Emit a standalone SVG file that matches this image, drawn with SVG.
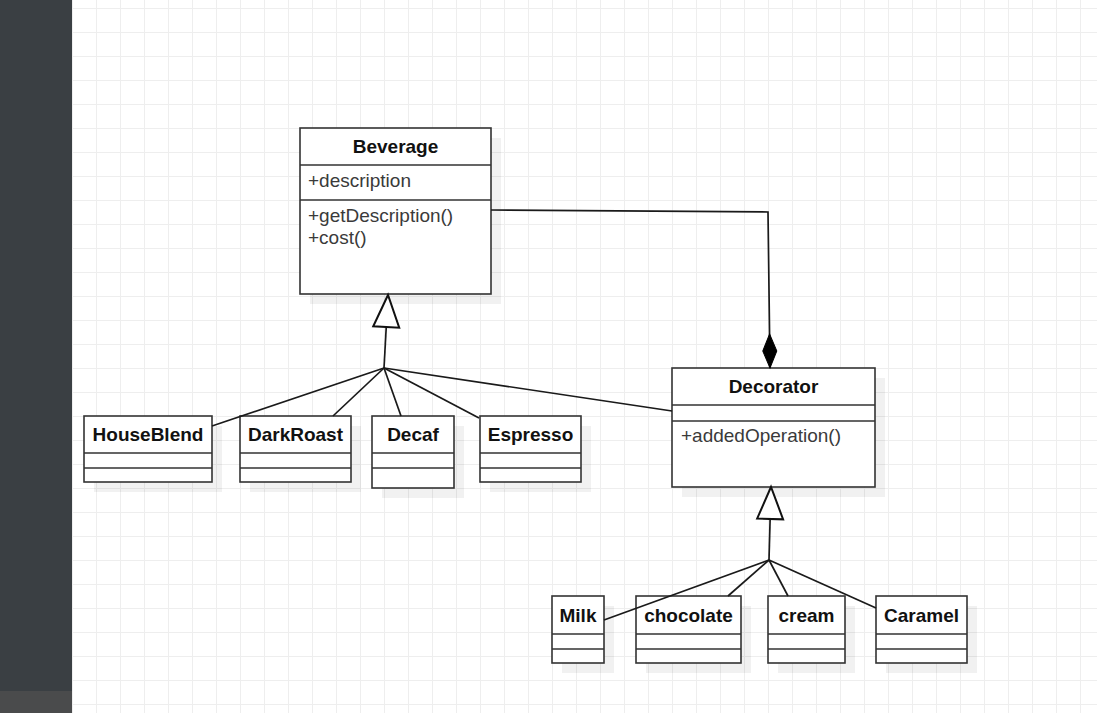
<svg xmlns="http://www.w3.org/2000/svg" width="1097" height="713" viewBox="0 0 1097 713">
<style>
.box{fill:#fff;stroke:#333;stroke-width:1.6}
.div{stroke:#333;stroke-width:1.6;fill:none}
.shadow{fill:#000;fill-opacity:0.055}
.title{font-family:"Liberation Sans",Arial,sans-serif;font-size:19px;font-weight:bold;fill:#111;text-anchor:middle}
.member{font-family:"Liberation Sans",Arial,sans-serif;font-size:19px;fill:#3a3a3a}
.edge{fill:none;stroke:#1a1a1a;stroke-width:1.7}
</style>
<defs>
<pattern id="grid" x="72" y="8" width="24" height="24" patternUnits="userSpaceOnUse">
<rect x="0" y="0" width="24" height="1" fill="#eeeeee"/>
<rect x="0" y="0" width="1" height="24" fill="#eeeeee"/>
</pattern>
<marker id="inherit" viewBox="-2 -2 36 30" refX="32" refY="13" markerWidth="36" markerHeight="30" markerUnits="userSpaceOnUse" orient="auto" overflow="visible">
<path d="M0,0 L32,13 L0,26 Z" fill="#fff" stroke="#111" stroke-width="2"/>
</marker>
<marker id="compose" viewBox="0 0 34 14" refX="34" refY="7" markerWidth="34" markerHeight="14" markerUnits="userSpaceOnUse" orient="auto" overflow="visible">
<path d="M0,7 L17,0 L34,7 L17,14 Z" fill="#000" stroke="#000" stroke-width="1"/>
</marker>
</defs>
<rect x="0" y="0" width="1097" height="713" fill="#fff"/>
<rect x="72" y="0" width="1025" height="713" fill="url(#grid)"/>
<rect x="0" y="0" width="72" height="713" fill="#3a3f43"/>
<rect x="0" y="691" width="72" height="22" fill="#4a4b4c"/>

<g id="beverage">
<rect class="shadow" x="310" y="138" width="191" height="166"/>
<rect class="box" x="300" y="128" width="191" height="166"/>
<path class="div" d="M300,165 H491 M300,200 H491"/>
<text class="title" x="395.5" y="153">Beverage</text>
<text class="member" x="308" y="187">+description</text>
<text class="member" x="308" y="222">+getDescription()</text>
<text class="member" x="308" y="244">+cost()</text>
</g>

<g id="decorator">
<rect class="shadow" x="682" y="378" width="203" height="119"/>
<rect class="box" x="672" y="368" width="203" height="119"/>
<path class="div" d="M672,405 H875 M672,421 H875"/>
<text class="title" x="773.5" y="393">Decorator</text>
<text class="member" x="681" y="442">+addedOperation()</text>
</g>

<g id="houseblend">
<rect class="shadow" x="94" y="426" width="128" height="66"/>
<rect class="box" x="84" y="416" width="128" height="66"/>
<path class="div" d="M84,453 H212 M84,468 H212"/>
<text class="title" x="148" y="441">HouseBlend</text>
</g>

<g id="darkroast">
<rect class="shadow" x="250" y="426" width="111" height="66"/>
<rect class="box" x="240" y="416" width="111" height="66"/>
<path class="div" d="M240,453 H351 M240,468 H351"/>
<text class="title" x="295.5" y="441">DarkRoast</text>
</g>

<g id="decaf">
<rect class="shadow" x="382" y="426" width="82" height="72"/>
<rect class="box" x="372" y="416" width="82" height="72"/>
<path class="div" d="M372,453 H454 M372,468 H454"/>
<text class="title" x="413" y="441">Decaf</text>
</g>

<g id="espresso">
<rect class="shadow" x="490" y="426" width="101" height="66"/>
<rect class="box" x="480" y="416" width="101" height="66"/>
<path class="div" d="M480,453 H581 M480,468 H581"/>
<text class="title" x="530.5" y="441">Espresso</text>
</g>

<g id="milk">
<rect class="shadow" x="562" y="606" width="52" height="67"/>
<rect class="box" x="552" y="596" width="52" height="67"/>
<path class="div" d="M552,634 H604 M552,649 H604"/>
<text class="title" x="578" y="622">Milk</text>
</g>

<g id="chocolate">
<rect class="shadow" x="646" y="606" width="105" height="67"/>
<rect class="box" x="636" y="596" width="105" height="67"/>
<path class="div" d="M636,634 H741 M636,649 H741"/>
<text class="title" x="688.5" y="622">chocolate</text>
</g>

<g id="cream">
<rect class="shadow" x="778" y="606" width="77" height="67"/>
<rect class="box" x="768" y="596" width="77" height="67"/>
<path class="div" d="M768,634 H845 M768,649 H845"/>
<text class="title" x="806.5" y="622">cream</text>
</g>

<g id="caramel">
<rect class="shadow" x="886" y="606" width="91" height="67"/>
<rect class="box" x="876" y="596" width="91" height="67"/>
<path class="div" d="M876,634 H967 M876,649 H967"/>
<text class="title" x="921.5" y="622">Caramel</text>
</g>

<g id="connectors">
<path class="edge" d="M384,368 L388,295" marker-end="url(#inherit)"/>
<path class="edge" d="M384,368 L212,426"/>
<path class="edge" d="M384,368 L333,416"/>
<path class="edge" d="M384,368 L401,416"/>
<path class="edge" d="M384,368 L479,418"/>
<path class="edge" d="M384,368 L672,411"/>
<path class="edge" d="M491,210 L768,212 L770,368" marker-end="url(#compose)"/>
<path class="edge" d="M769,560 L771,487" marker-end="url(#inherit)"/>
<path class="edge" d="M769,560 L604,620"/>
<path class="edge" d="M769,560 L728,596"/>
<path class="edge" d="M769,560 L788,596"/>
<path class="edge" d="M769,560 L876,608"/>
</g>
</svg>
